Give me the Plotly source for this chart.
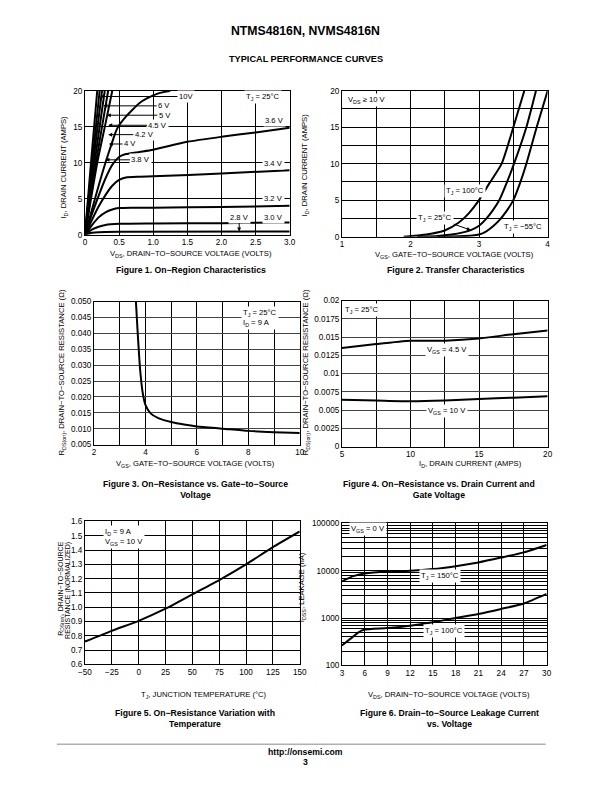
import plotly.graph_objects as go

# The page body keeps its default 8px margin; the figure is sized so that the
# document is exactly 612 x 792. Layout positions are given in page pixels of the
# reference and mapped through a small calibration measured on earlier renders.
PAGE_W, PAGE_H, OFF = 612, 792, 8
W, H = PAGE_W - 2 * OFF, PAGE_H - 2 * OFF
FONT = "Liberation Sans, Arial, Helvetica, sans-serif"
SX, CX = 0.973, 8.5
SY, CY = 0.989, 3.3
FS = 1.02

# ---------------- Figure 1: On-Region Characteristics ----------------
f1_vds_10v = [0, 0.09, 0.18]
f1_id_10v = [0, 10.2, 20]
f1_vds_6v = [0, 0.105, 0.215]
f1_id_6v = [0, 10, 20]
f1_vds_5v = [0, 0.12, 0.25]
f1_id_5v = [0, 10, 20]
f1_vds_45v = [0, 0.14, 0.29]
f1_id_45v = [0, 10, 20]
f1_vds_42v = [0, 0.16, 0.34]
f1_id_42v = [0, 10, 20]
f1_vds_4v = [0, 0.18, 0.30, 0.40]
f1_id_4v = [0, 10, 15.4, 20]
f1_vds_38v = [0, 0.1, 0.2, 0.3, 0.4, 0.46, 0.5, 0.6, 0.7, 0.8, 0.9, 1.0, 1.1, 1.25]
f1_id_38v = [0, 3.4, 6.8, 10, 12.9, 14.5, 15.2, 16.4, 17.4, 18.3, 18.9, 19.35, 19.7, 20]
f1_vds_36v = [0, 0.1, 0.2, 0.3, 0.4, 0.5, 0.6, 0.8, 1.0, 1.5, 2.0, 2.5, 3.0]
f1_id_36v = [0, 2.8, 5.4, 7.8, 9.7, 10.8, 11.2, 11.5, 11.8, 12.9, 13.6, 14.2, 14.85]
f1_vds_34v = [0, 0.1, 0.2, 0.3, 0.4, 0.5, 0.6, 0.8, 1.0, 2.0, 3.0]
f1_id_34v = [0, 2.0, 3.9, 5.5, 6.8, 7.6, 7.95, 8.05, 8.1, 8.5, 8.95]
f1_vds_32v = [0, 0.1, 0.2, 0.3, 0.4, 0.5, 0.7, 1.0, 2.0, 3.0]
f1_id_32v = [0, 1.3, 2.4, 3.1, 3.5, 3.7, 3.75, 3.75, 3.85, 4.0]
f1_vds_30v = [0, 0.1, 0.2, 0.3, 0.5, 1.0, 2.0, 3.0]
f1_id_30v = [0, 0.7, 1.1, 1.35, 1.5, 1.55, 1.6, 1.7]
f1_vds_28v = [0, 0.1, 0.2, 0.5, 3.0]
f1_id_28v = [0, 0.25, 0.35, 0.4, 0.45]

f1_xticks = [0, 0.5, 1.0, 1.5, 2.0, 2.5, 3.0]
f1_xtext = ["0", "0.5", "1.0", "1.5", "2.0", "2.5", "3.0"]
f1_yticks = [0, 5, 10, 15, 20]

# ---------------- Figure 2: Transfer Characteristics ----------------
f2_vgs_100 = [1.9, 2.14, 2.3, 2.5, 2.7, 2.85, 3.0, 3.15, 3.33, 3.5, 3.66]
f2_id_100 = [0, 0.2, 0.4, 0.85, 1.9, 3.2, 5.0, 7.3, 10, 15, 20]
f2_vgs_25 = [2.1, 2.4, 2.6, 2.75, 2.88, 3.0, 3.1, 3.2, 3.3, 3.4, 3.51, 3.69, 3.83]
f2_id_25 = [0, 0.1, 0.3, 0.55, 0.9, 1.5, 2.4, 3.6, 5.1, 7.3, 10, 15, 20]
f2_vgs_m55 = [2.4, 2.7, 2.9, 3.0, 3.1, 3.2, 3.3, 3.4, 3.5, 3.6, 3.69, 3.84, 4.0]
f2_id_m55 = [0, 0.05, 0.15, 0.3, 0.7, 1.4, 2.3, 3.5, 5.0, 7.4, 10, 15, 20]
f2_xticks = [1, 2, 3, 4]
f2_xminor = [1.5, 2.5, 3.5]
f2_yticks = [0, 5, 10, 15, 20]
f2_yminor = [2.5, 7.5, 12.5, 17.5]

# ---------------- Figure 3: RDS(on) vs VGS ----------------
f3_vgs = [3.63, 3.7, 3.8, 3.9, 4.0, 4.2, 4.5, 5.0, 5.5, 6.0, 7.0, 8.0, 9.0, 10.0]
f3_rds = [0.050, 0.040, 0.028, 0.021, 0.0175, 0.0148, 0.0133, 0.0121, 0.0113, 0.0107,
          0.0100, 0.0093, 0.0089, 0.0086]
f3_xticks = [2, 4, 6, 8, 10]
f3_xminor = [3, 5, 7, 9]
f3_yticks = [0.005, 0.010, 0.015, 0.020, 0.025, 0.030, 0.035, 0.040, 0.045, 0.050]
f3_ytext = ["0.005", "0.010", "0.015", "0.020", "0.025", "0.030", "0.035", "0.040", "0.045", "0.050"]

# ---------------- Figure 4: RDS(on) vs ID ----------------
f4_id = [5, 7.5, 10, 12.5, 15, 17.5, 20]
f4_rds_45v = [0.0135, 0.01405, 0.0145, 0.0145, 0.0148, 0.0154, 0.0159]
f4_rds_10v = [0.0064, 0.0063, 0.0062, 0.0063, 0.0065, 0.0067, 0.0069]
f4_xticks = [5, 10, 15, 20]
f4_xminor = [7.5, 12.5, 17.5]
f4_yticks = [0, 0.0025, 0.005, 0.0075, 0.01, 0.0125, 0.015, 0.0175, 0.02]
f4_ytext = ["0", "0.0025", "0.005", "0.0075", "0.01", "0.0125", "0.015", "0.0175", "0.02"]

# ---------------- Figure 5: RDS(on) vs Temperature ----------------
f5_tj = [-50, -25, 0, 25, 50, 75, 100, 125, 150]
f5_rnorm = [0.76, 0.835, 0.905, 0.99, 1.09, 1.19, 1.30, 1.42, 1.53]
f5_xticks = [-50, -25, 0, 25, 50, 75, 100, 125, 150]
f5_xtext = ["\u221250", "\u221225", "0", "25", "50", "75", "100", "125", "150"]
f5_yticks = [0.6, 0.7, 0.8, 0.9, 1.0, 1.1, 1.2, 1.3, 1.4, 1.5, 1.6]
f5_ytext = ["0.6", "0.7", "0.8", "0.9", "1.0", "1.1", "1.2", "1.3", "1.4", "1.5", "1.6"]

# ---------------- Figure 6: Leakage vs VDS ----------------
f6_vds_150 = [3, 4.5, 6, 9, 12, 15, 18, 21, 24, 27, 30]
f6_idss_150 = [6000, 7700, 8800, 9700, 10000, 10850, 12500, 15000, 19000, 24500, 35000]
f6_vds_100 = [3, 4.1, 5.2, 5.9, 9, 12, 15, 18, 21, 24, 27, 30]
f6_idss_100 = [264, 363, 500, 565, 615, 690, 815, 1000, 1220, 1560, 2040, 3250]
f6_xticks = [3, 6, 9, 12, 15, 18, 21, 24, 27, 30]
f6_yticks = [100, 1000, 10000, 100000]
f6_ytext = ["100", "1000", "10000", "100000"]
f6_yminor = [m * d for d in (100, 1000, 10000) for m in range(2, 10)]

# ---------------- helpers (reference page pixel -> paper fraction) ----------------
def px(x):
    return ((x - CX) / SX - OFF) / W

def py(y):
    return 1 - ((y - CY) / SY - OFF) / H

def dx(a, b):
    return [px(a), px(b)]

def dy(top, bottom):
    return [py(bottom), py(top)]

def axis(domain, rng, tickvals, ticktext=None, minor=None, anchor=None, typ="linear", gridcolor="black"):
    d = dict(domain=domain, range=rng, type=typ, anchor=anchor,
             showline=True, mirror=True, linecolor="black", linewidth=1,
             showgrid=True, gridcolor=gridcolor, gridwidth=1, zeroline=False,
             ticks="", tickmode="array", tickvals=tickvals,
             tickfont=dict(family=FONT, size=8 * FS, color="black"))
    if ticktext is not None:
        d["ticktext"] = ticktext
    if minor is not None:
        d["minor"] = dict(tickmode="array", tickvals=minor, showgrid=True,
                          gridcolor=gridcolor, gridwidth=1, ticks="")
    return d

fig = go.Figure()

def curve(x, y, n, width=2):
    fig.add_trace(go.Scatter(x=x, y=y, mode="lines", xaxis="x" + n, yaxis="y" + n,
                             line=dict(color="black", width=width, shape="spline", smoothing=0.6),
                             showlegend=False, hoverinfo="skip"))

for xs, ys in [(f1_vds_10v, f1_id_10v), (f1_vds_6v, f1_id_6v), (f1_vds_5v, f1_id_5v),
               (f1_vds_45v, f1_id_45v), (f1_vds_42v, f1_id_42v), (f1_vds_4v, f1_id_4v),
               (f1_vds_38v, f1_id_38v), (f1_vds_36v, f1_id_36v), (f1_vds_34v, f1_id_34v),
               (f1_vds_32v, f1_id_32v), (f1_vds_30v, f1_id_30v), (f1_vds_28v, f1_id_28v)]:
    curve(xs, ys, "1")

curve(f2_vgs_100, f2_id_100, "2")
curve(f2_vgs_25, f2_id_25, "2")
curve(f2_vgs_m55, f2_id_m55, "2")
curve(f3_vgs, f3_rds, "3")
curve(f4_id, f4_rds_45v, "4")
curve(f4_id, f4_rds_10v, "4")
curve(f5_tj, f5_rnorm, "5")
curve(f6_vds_150, f6_idss_150, "6")
curve(f6_vds_100, f6_idss_100, "6")

layout = dict(
    width=W, height=H, margin=dict(l=0, r=0, t=0, b=0), autosize=False,
    paper_bgcolor="white", plot_bgcolor="white", showlegend=False,
    font=dict(family=FONT, size=8, color="black"),
    xaxis=axis(dx(86, 290), [0, 3], f1_xticks, f1_xtext, anchor="y"),
    yaxis=axis(dy(90, 234), [0, 20], f1_yticks, anchor="x"),
    xaxis2=axis(dx(342, 547), [1, 4], f2_xticks, minor=f2_xminor, anchor="y2"),
    yaxis2=axis(dy(90, 236), [0, 20], f2_yticks, minor=f2_yminor, anchor="x2"),
    xaxis3=axis(dx(95, 300), [2, 10], f3_xticks, minor=f3_xminor, anchor="y3"),
    yaxis3=axis(dy(301, 444), [0.005, 0.050], f3_yticks, f3_ytext, anchor="x3", gridcolor="#444"),
    xaxis4=axis(dx(342, 547), [5, 20], f4_xticks, minor=f4_xminor, anchor="y4"),
    yaxis4=axis(dy(300, 446), [0, 0.02], f4_yticks, f4_ytext, anchor="x4", gridcolor="#444"),
    xaxis5=axis(dx(86, 300), [-50, 150], f5_xticks, f5_xtext, anchor="y5"),
    yaxis5=axis(dy(521, 664), [0.6, 1.6], f5_yticks, f5_ytext, anchor="x5"),
    xaxis6=axis(dx(342, 546), [3, 30], f6_xticks, anchor="y6"),
    yaxis6=axis(dy(523, 665), [2, 5], f6_yticks, f6_ytext, minor=f6_yminor, anchor="x6", typ="log"),
)
fig.update_layout(**layout)

ann = []

def text(x, y, s, size=7.5, bold=False, angle=0, align="center", xanchor="center", yanchor="middle"):
    if bold:
        s = "<b>" + s + "</b>"
    ann.append(dict(x=px(x), y=py(y), xref="paper", yref="paper", text=s, showarrow=False,
                    font=dict(family=FONT, size=size * FS, color="black"), textangle=angle,
                    align=align, xanchor=xanchor, yanchor=yanchor))

def label(n, x, y, s, tip=None, size=7.5, align="center", xanchor="center"):
    d = dict(x=x, y=y, xref="x" + n, yref="y" + n, text=s, showarrow=False,
             font=dict(family=FONT, size=size * FS, color="black"), bgcolor="white",
             align=align, xanchor=xanchor, yanchor="middle", borderpad=1)
    if tip is not None:
        d.update(showarrow=True, x=tip[0], y=tip[1], ax=x, ay=y,
                 axref="x" + n, ayref="y" + n, arrowhead=2, arrowsize=0.8,
                 arrowwidth=1, arrowcolor="black", standoff=0)
    ann.append(d)

# Page header / footer
text(306, 30, "NTMS4816N, NVMS4816N", size=12, bold=True)
text(306, 58, "TYPICAL PERFORMANCE CURVES", size=9, bold=True)
text(306, 752, "http://onsemi.com", size=8.5, bold=True)
text(306, 762, "3", size=8.5, bold=True)

# Fig 1 annotations
label("1", 1.48, 19.2, "10V", tip=(0.22, 19.2))
label("1", 1.16, 17.9, "6 V", tip=(0.27, 17.9))
label("1", 1.17, 16.6, "5 V", tip=(0.32, 16.6))
label("1", 1.07, 15.2, "4.5 V", tip=(0.34, 15.2))
label("1", 0.87, 13.9, "4.2 V", tip=(0.34, 13.9))
label("1", 0.66, 12.6, "4 V", tip=(0.35, 12.6))
label("1", 0.82, 10.4, "3.8 V", tip=(0.30, 10.4))
label("1", 2.61, 19.2, "T<sub>J</sub> = 25\u00b0C")
label("1", 2.78, 15.84, "3.6 V")
label("1", 2.76, 9.93, "3.4 V")
label("1", 2.76, 4.99, "3.2 V")
label("1", 2.76, 2.45, "3.0 V")
label("1", 2.26, 2.45, "2.8 V", tip=(2.26, 0.45))
text(192, 253, "V<sub>DS</sub>, DRAIN\u2212TO\u2212SOURCE VOLTAGE (VOLTS)")
text(65, 166, "I<sub>D</sub>, DRAIN CURRENT (AMPS)", angle=-90)
text(192, 269, "Figure 1. On\u2212Region Characteristics", size=8.5, bold=True)

# Fig 2 annotations
label("2", 1.36, 18.7, "V<sub>DS</sub> \u2265 10 V")
label("2", 2.79, 6.27, "T<sub>J</sub> = 100\u00b0C")
label("2", 2.36, 2.6, "T<sub>J</sub> = 25\u00b0C", tip=(2.88, 0.9))
label("2", 3.64, 1.37, "T<sub>J</sub> = \u221255\u00b0C")
text(454, 254, "V<sub>GS</sub>, GATE\u2212TO\u2212SOURCE VOLTAGE (VOLTS)")
text(305, 164, "I<sub>D</sub>, DRAIN CURRENT (AMPS)", angle=-90)
text(456, 269, "Figure 2. Transfer Characteristics", size=8.5, bold=True)

# Fig 3 annotations
label("3", 8.45, 0.0447, "T<sub>J</sub> = 25\u00b0C<br>I<sub>D</sub> = 9 A", align="left")
text(196, 463, "V<sub>GS</sub>, GATE\u2212TO\u2212SOURCE VOLTAGE (VOLTS)")
text(63, 372, "R<sub>DS(on)</sub>, DRAIN\u2212TO\u2212SOURCE RESISTANCE (\u03a9)", angle=-90)
text(196, 489, "Figure 3. On\u2212Resistance vs. Gate\u2212to\u2212Source<br>Voltage", size=8.5, bold=True)

# Fig 4 annotations
label("4", 6.44, 0.0187, "T<sub>J</sub> = 25\u00b0C")
label("4", 12.66, 0.0132, "V<sub>GS</sub> = 4.5 V")
label("4", 12.66, 0.0049, "V<sub>GS</sub> = 10 V")
text(470, 463, "I<sub>D</sub>, DRAIN CURRENT (AMPS)")
text(306, 372, "R<sub>DS(on)</sub>, DRAIN\u2212TO\u2212SOURCE RESISTANCE (\u03a9)", angle=-90)
text(439, 489, "Figure 4. On\u2212Resistance vs. Drain Current and<br>Gate Voltage", size=8.5, bold=True)

# Fig 5 annotations
label("5", -14, 1.49, "I<sub>D</sub> = 9 A<br>V<sub>GS</sub> = 10 V", align="left")
text(205, 695, "T<sub>J</sub>, JUNCTION TEMPERATURE (\u00b0C)")
text(62.5, 539, "R<sub>DS(on)</sub>, DRAIN\u2212TO\u2212SOURCE", size=6.9, angle=-90, yanchor="top")
text(69, 539, "RESISTANCE (NORMALIZED)", size=6.9, angle=-90, yanchor="top")
text(196, 718, "Figure 5. On\u2212Resistance Variation with<br>Temperature", size=8.5, bold=True)

# Fig 6 annotations
label("6", 6.5, 4.888, "V<sub>GS</sub> = 0 V")
label("6", 16.0, 3.90, "T<sub>J</sub> = 150\u00b0C")
label("6", 16.4, 2.725, "T<sub>J</sub> = 100\u00b0C")
text(449, 695, "V<sub>DS</sub>, DRAIN\u2212TO\u2212SOURCE VOLTAGE (VOLTS)")
text(303, 587, "I<sub>DSS</sub>, LEAKAGE (nA)", angle=-90)
text(449, 718, "Figure 6. Drain\u2212to\u2212Source Leakage Current<br>vs. Voltage", size=8.5, bold=True)

fig.update_layout(annotations=ann)

fig.add_shape(type="line", xref="paper", yref="paper", x0=px(58), x1=px(545), y0=py(744), y1=py(744),
              line=dict(color="#b0b0b0", width=1.5))

fig.write_html("out.html", config={"displayModeBar": False, "responsive": False})
